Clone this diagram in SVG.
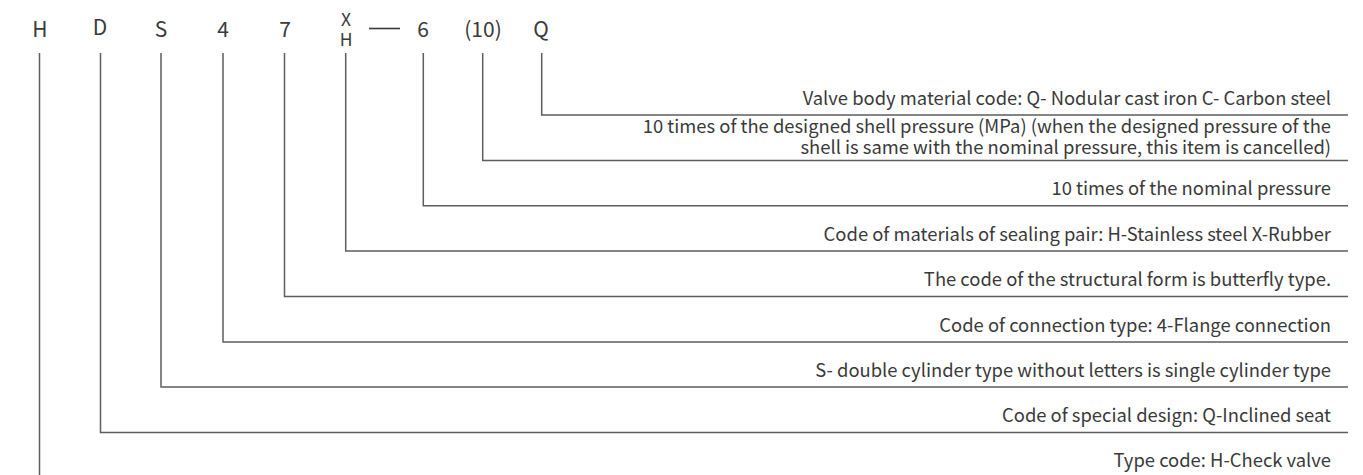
<svg xmlns="http://www.w3.org/2000/svg" width="1363" height="475" viewBox="0 0 1363 475">
<style>
.code{font-family:"Noto Sans CJK SC","Noto Sans",sans-serif;font-size:21px;fill:#3a3a3a;text-anchor:middle}
.small{font-size:17.5px}
.desc{font-family:"Noto Sans CJK SC","Noto Sans",sans-serif;font-size:18.4px;fill:#3a3a3a;text-anchor:end}
.ln{fill:none;stroke:#5e5e5e;stroke-width:1.5}
</style>
<rect width="1363" height="475" fill="#ffffff"/>
<g id="code-H"><text class="code" x="40" y="37">H</text><text class="desc" x="1331" y="467">Type code: H-Check valve</text></g>
<g id="code-D"><text class="code" x="100" y="35">D</text><text class="desc" x="1331" y="421.5">Code of special design: Q-Inclined seat</text></g>
<g id="code-S"><text class="code" x="161" y="37">S</text><text class="desc" x="1331" y="376.5">S- double cylinder type without letters is single cylinder type</text></g>
<g id="code-4"><text class="code" x="223" y="37">4</text><text class="desc" x="1331" y="331.5">Code of connection type: 4-Flange connection</text></g>
<g id="code-7"><text class="code" x="285" y="37">7</text><text class="desc" x="1331" y="286">The code of the structural form is butterfly type.</text></g>
<g id="code-XH"><text class="code small"><tspan x="346" y="26">X</tspan><tspan x="346" y="45.5">H</tspan></text><text class="desc" x="1331" y="240.5">Code of materials of sealing pair: H-Stainless steel X-Rubber</text></g>
<g id="dash"><line x1="369" y1="28.5" x2="400" y2="28.5" stroke="#3a3a3a" stroke-width="1.6"/></g>
<g id="code-6"><text class="code" x="423" y="37">6</text><text class="desc" x="1331" y="195">10 times of the nominal pressure</text></g>
<g id="code-10"><text class="code" x="483" y="37">(10)</text><text class="desc"><tspan x="1331" y="133">10 times of the designed shell pressure (MPa) (when the designed pressure of the</tspan><tspan x="1331" y="154">shell is same with the nominal pressure, this item is cancelled)</tspan></text></g>
<g id="code-Q"><text class="code" x="541" y="37">Q</text><text class="desc" x="1331" y="105">Valve body material code: Q- Nodular cast iron C- Carbon steel</text></g>
<g id="connectors">
<path class="ln" d="M39.5,53 V475"/>
<path class="ln" d="M100.5,53 V432.5 H1348"/>
<path class="ln" d="M161,53 V387 H1348"/>
<path class="ln" d="M223,53 V342 H1348"/>
<path class="ln" d="M284.5,53 V296.5 H1348"/>
<path class="ln" d="M345.7,53 V251 H1348"/>
<path class="ln" d="M423.3,53 V205.7 H1348"/>
<path class="ln" d="M482.7,53 V160.5 H1348"/>
<path class="ln" d="M541.7,53 V115 H1348"/>
</g>
</svg>
